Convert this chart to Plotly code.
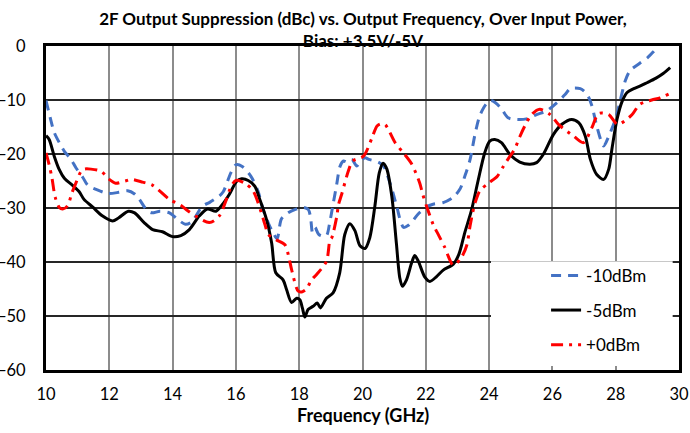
import plotly.graph_objects as go

# -10dBm input power
freq_m10 = [10.0, 10.16, 10.26, 10.42, 10.58, 10.79, 10.95, 11.16, 11.32, 11.6, 11.95, 12.3,
            12.58, 12.8, 12.95, 13.2, 13.35, 13.6, 13.9, 14.16, 14.4, 14.6, 14.95, 15.16,
            15.47, 15.6, 15.84, 16.0, 16.2, 16.47, 16.7, 16.86, 17.07, 17.18, 17.3, 17.44,
            17.65, 17.9, 18.13, 18.29, 18.36, 18.42, 18.5, 18.62, 18.85, 18.97, 19.08, 19.18,
            19.29, 19.4, 19.52, 19.66, 19.82, 19.95, 20.08, 20.2, 20.5, 20.67, 20.88, 21.09,
            21.2, 21.3, 21.45, 21.6, 21.76, 22.02, 22.23, 22.55, 22.87, 23.08, 23.24, 23.4,
            23.55, 23.7, 23.9, 24.05, 24.2, 24.4, 24.6, 24.87, 25.18, 25.5, 25.82, 26.14,
            26.4, 26.56, 26.88, 27.1, 27.25, 27.4, 27.62, 27.78, 27.99, 28.15, 28.3, 28.45,
            28.76, 29.0, 29.2, 29.35]
supp_m10 = [-10.1, -13.9, -16.0, -17.9, -19.5, -21.0, -22.6, -24.3, -25.8, -26.6, -27.3, -27.1,
            -26.8, -27.4, -28.4, -30.5, -30.9, -30.6, -30.9, -32.1, -33.0, -32.6, -29.6, -29.0,
            -27.8, -27.0, -23.5, -22.0, -22.3, -24.1, -26.9, -30.3, -33.4, -34.6, -35.7, -32.0,
            -30.9, -30.2, -29.9, -30.3, -31.8, -34.5, -33.6, -34.9, -35.2, -32.5, -29.0, -25.8,
            -22.3, -21.3, -21.5, -21.0, -22.2, -21.3, -20.7, -21.0, -21.5, -22.3, -25.6, -29.9,
            -32.4, -33.6, -33.2, -32.3, -31.1, -29.8, -29.3, -29.0, -28.0, -26.5, -24.0, -21.0,
            -16.5, -13.0, -10.8, -10.1, -10.5, -11.7, -13.3, -13.6, -13.5, -12.7, -12.0, -10.5,
            -9.0, -7.9, -7.9, -9.0, -11.1, -14.8, -18.5, -16.7, -13.6, -9.9, -6.5, -4.6,
            -3.2, -2.2, -1.0, 0.0]

# -5dBm input power
freq_m5 = [10.0, 10.1, 10.26, 10.42, 10.58, 10.84, 11.05, 11.2, 11.47, 11.79, 12.1, 12.3,
           12.6, 12.8, 13.1, 13.37, 13.68, 14.0, 14.26, 14.53, 14.84, 15.1, 15.37, 15.58,
           15.79, 16.02, 16.18, 16.39, 16.6, 16.76, 16.97, 17.13, 17.26, 17.49, 17.6, 17.76,
           17.92, 18.02, 18.1, 18.18, 18.28, 18.44, 18.57, 18.67, 18.86, 19.07, 19.28, 19.44,
           19.6, 19.76, 19.92, 20.08, 20.23, 20.39, 20.53, 20.65, 20.77, 20.93, 21.07, 21.18,
           21.26, 21.39, 21.55, 21.65, 21.76, 21.97, 22.13, 22.34, 22.55, 22.87, 23.05, 23.23,
           23.44, 23.65, 23.86, 24.02, 24.18, 24.39, 24.66, 24.97, 25.29, 25.5, 25.71, 26.03,
           26.3, 26.61, 26.83, 27.04, 27.2, 27.4, 27.62, 27.78, 27.88, 28.04, 28.2, 28.36,
           28.57, 28.78, 28.99, 29.26, 29.5, 29.72]
supp_m5 = [-16.6, -17.3, -20.4, -22.9, -24.5, -25.8, -27.0, -28.4, -29.8, -31.5, -32.4, -31.8,
           -30.6, -30.9, -32.7, -34.0, -34.4, -35.3, -35.1, -34.0, -31.5, -30.2, -30.6, -29.3,
           -27.5, -25.1, -24.6, -24.9, -26.0, -28.5, -32.2, -36.5, -42.0, -43.3, -45.1, -47.5,
           -46.7, -47.0, -48.5, -50.2, -48.8, -48.2, -47.6, -48.5, -46.7, -45.7, -42.0, -34.9,
           -32.9, -34.2, -37.0, -37.5, -35.5, -29.7, -23.5, -21.7, -22.8, -28.0, -36.5, -43.0,
           -44.5, -43.3, -40.2, -38.8, -39.8, -42.8, -43.6, -42.7, -41.5, -40.4, -38.5, -34.6,
           -30.5, -25.0, -19.8, -17.6, -17.3, -17.9, -20.1, -21.5, -21.9, -21.6, -20.1, -16.4,
           -14.5, -13.6, -14.2, -16.7, -21.0, -23.8, -24.7, -22.8, -19.1, -13.6, -10.3, -8.6,
           -7.9, -7.4, -6.8, -6.0, -5.1, -4.0]

# +0dBm input power
freq_p0 = [10.0, 10.1, 10.19, 10.29, 10.42, 10.53, 10.68, 10.82, 10.95, 11.1, 11.21, 11.42,
           11.74, 12.0, 12.2, 12.5, 12.7, 13.05, 13.37, 13.9, 14.26, 14.5, 15.16, 15.47,
           15.7, 15.85, 16.0, 16.28, 16.55, 16.92, 17.02, 17.28, 17.55, 17.68, 17.76, 17.97,
           18.1, 18.23, 18.39, 18.55, 18.86, 18.97, 19.03, 19.19, 19.24, 19.34, 19.55, 19.69,
           20.03, 20.3, 20.46, 20.6, 20.72, 21.04, 21.28, 21.55, 21.81, 21.9, 22.02, 22.23,
           22.42, 22.6, 22.87, 23.13, 23.29, 23.4, 23.48, 23.56, 23.71, 23.98, 24.26, 24.46,
           24.66, 24.81, 24.97, 25.13, 25.34, 25.6, 25.93, 26.19, 26.67, 26.98, 27.25, 27.46,
           27.78, 28.04, 28.2, 28.52, 28.76, 29.14, 29.4, 29.71]
supp_p0 = [-19.8, -22.0, -24.5, -28.0, -29.9, -30.2, -29.6, -27.2, -25.3, -23.3, -22.8, -22.8,
           -23.2, -24.7, -25.4, -25.0, -24.7, -25.2, -25.8, -28.4, -29.5, -30.6, -32.7, -31.5,
           -28.4, -26.0, -24.9, -25.4, -26.9, -33.1, -34.9, -35.9, -36.8, -39.3, -41.4, -45.4,
           -45.5, -45.0, -43.3, -42.3, -39.9, -36.0, -35.5, -31.5, -29.4, -27.5, -23.2, -21.3,
           -20.4, -17.0, -14.8, -14.4, -14.6, -18.0, -19.7, -21.8, -25.4, -27.4, -29.6, -33.0,
           -35.2, -37.3, -40.6, -39.1, -37.0, -33.3, -30.9, -29.0, -26.8, -25.4, -24.1, -22.2,
           -20.4, -19.1, -16.8, -14.8, -12.7, -11.7, -12.7, -14.5, -16.7, -17.9, -15.1, -12.5,
           -12.7, -14.5, -14.2, -12.7, -10.8, -10.0, -9.6, -8.8]

x_ticks = list(range(10, 31, 2))
y_ticks = list(range(-60, 1, 10))

FONT = "Lato, 'Open Sans', sans-serif"

fig = go.Figure()

fig.add_trace(go.Scatter(
    x=freq_m10, y=supp_m10, name='-10dBm', mode='lines',
    line=dict(color='#4472C4', width=3, dash='10px,7px', shape='spline', smoothing=0.8),
    legendgroup='a'))
fig.add_trace(go.Scatter(
    x=freq_m5, y=supp_m5, name='-5dBm', mode='lines',
    line=dict(color='#000000', width=3, shape='spline', smoothing=0.8),
    legendgroup='b'))
fig.add_trace(go.Scatter(
    x=freq_p0, y=supp_p0, name='+0dBm', mode='lines',
    line=dict(color='#FF0000', width=3, dash='12px,6px,3px,6px', shape='spline', smoothing=0.8),
    legendgroup='c'))

# white panel behind the legend
fig.add_shape(type='rect', xref='paper', yref='paper',
              x0=0.703, x1=0.99, y0=0.012, y1=0.336,
              fillcolor='white', line_width=0, layer='above')

# x axis title as annotation (sits closer to the tick labels than standoff allows)
fig.add_annotation(text='<b>Frequency (GHz)</b>', xref='paper', yref='paper',
                   x=0.5, y=-0.138, xanchor='center', yanchor='middle',
                   showarrow=False, font=dict(family=FONT, size=18, color='#000000'))

fig.update_layout(
    width=690, height=433,
    margin=dict(l=46, r=11, t=46, b=63),
    paper_bgcolor='white',
    plot_bgcolor='white',
    font=dict(family=FONT, size=16, color='#000000'),
    title=dict(
        text='2F Output Suppression (dBc) vs. Output Frequency, Over Input Power,<br>Bias: +3.5V/-5V',
        x=0.526, xanchor='center', y=0.943, yanchor='middle',
        font=dict(family=FONT, size=17, color='#000000', weight='bold')
    ),
    showlegend=True,
    legend=dict(
        x=0.790, xanchor='left', y=0.346, yanchor='top',
        bgcolor='rgba(0,0,0,0)',
        font=dict(family=FONT, size=17, color='#000000'),
        traceorder='grouped', tracegroupgap=9.5,
        itemwidth=30
    ),
)

fig.update_xaxes(
    range=[10, 30], tickvals=x_ticks, automargin=False,
    showgrid=True, gridcolor='#8c8c8c', gridwidth=1.5,
    showline=True, linecolor='#000000', linewidth=3, mirror=True,
    ticks='', ticklabelstandoff=7, zeroline=False,
    tickfont=dict(family=FONT, size=16.5, color='#000000')
)
fig.update_yaxes(
    range=[-60, 0], tickvals=y_ticks, automargin=False,
    showgrid=True, gridcolor='#262626', gridwidth=1.5,
    showline=True, linecolor='#000000', linewidth=3, mirror=True,
    ticks='', ticklabelstandoff=14, zeroline=False,
    tickfont=dict(family=FONT, size=16.5, color='#000000')
)

fig.write_html("out.html", config={'displayModeBar': False},
               post_script="document.body.style.margin='0px';")
